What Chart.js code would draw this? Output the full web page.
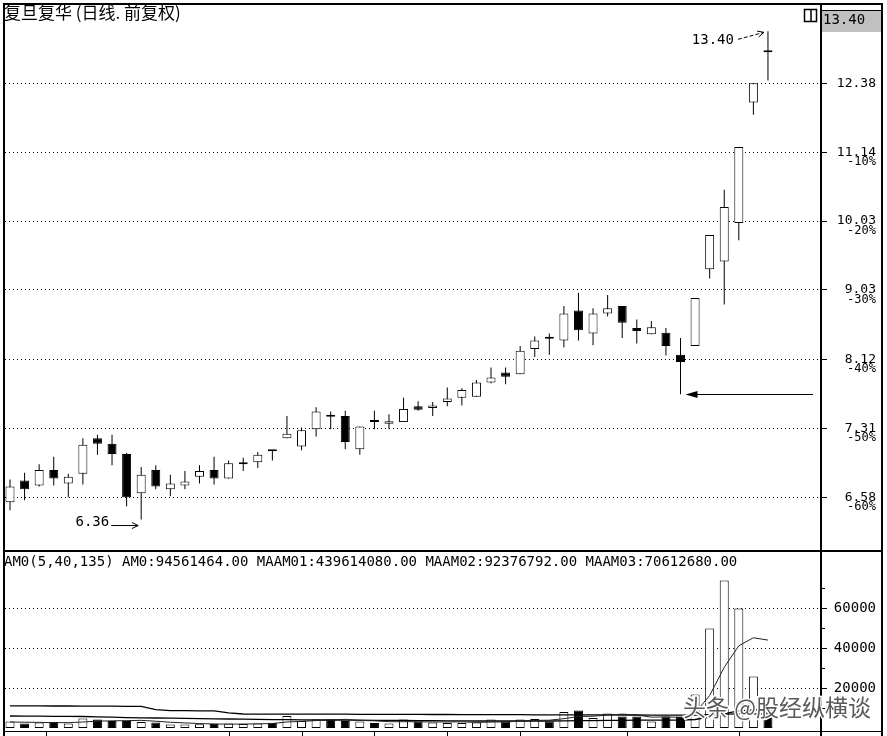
<!DOCTYPE html>
<html lang="zh">
<head>
<meta charset="utf-8">
<title>复旦复华 日线 前复权</title>
<script src="https://cdn.jsdelivr.net/npm/chart.js@4.4.1/dist/chart.umd.min.js"></script>
<style>
    html, body { margin: 0; padding: 0; background: #ffffff; }
    #contenedor { position: relative; width: 887px; height: 736px; overflow: hidden; background: #ffffff; }
    #contenedor canvas { position: absolute; left: 0; top: 0; }
</style>
</head>
<body>
<div id="contenedor">
    <canvas id="graficoPrecio" width="887" height="736"></canvas>
    <canvas id="graficoVolumen" width="887" height="736"></canvas>
</div>
<script>
// Posición de cada vela (53 sesiones)
const dias = Array.from({ length: 53 }, (_, i) => i);

// Precios
const apertura = [6.53, 6.75, 6.70, 6.86, 6.72, 6.82, 7.20, 7.14, 7.03, 6.62,
    6.86, 6.66, 6.70, 6.79, 6.86, 6.77, 6.92, 6.94, 7.07, 7.20,
    7.11, 7.30, 7.46, 7.45, 7.08, 7.39, 7.36, 7.38, 7.56, 7.54,
    7.61, 7.66, 7.67, 7.84, 7.96, 7.94, 8.25, 8.40, 8.36, 8.75,
    8.45, 8.71, 8.81, 8.52, 8.44, 8.46, 8.18, 8.29, 9.32, 9.43,
    10.00, 12.02, 13.00];
const maximo = [6.76, 6.83, 6.92, 7.00, 6.82, 7.20, 7.24, 7.24, 7.04, 6.89,
    6.91, 6.81, 6.85, 6.91, 7.00, 6.96, 6.99, 7.05, 7.07, 7.45,
    7.32, 7.55, 7.50, 7.51, 7.33, 7.51, 7.47, 7.66, 7.62, 7.61,
    7.78, 7.77, 7.87, 8.02, 8.02, 8.29, 8.41, 8.45, 8.81, 8.99,
    8.78, 8.96, 8.81, 8.63, 8.61, 8.52, 8.39, 8.92, 9.82, 10.52,
    11.23, 12.38, 13.40];
const minimo = [6.45, 6.55, 6.69, 6.70, 6.58, 6.71, 7.02, 6.91, 6.49, 6.36,
    6.66, 6.59, 6.66, 6.72, 6.71, 6.77, 6.85, 6.88, 6.96, 7.20,
    7.07, 7.22, 7.30, 7.08, 7.02, 7.30, 7.30, 7.38, 7.51, 7.45,
    7.56, 7.57, 7.67, 7.83, 7.82, 7.94, 8.15, 8.18, 8.27, 8.36,
    8.30, 8.67, 8.39, 8.32, 8.44, 8.17, 7.70, 8.29, 9.19, 8.83,
    9.74, 11.80, 12.43];
const cierre = [6.69, 6.66, 6.86, 6.77, 6.79, 7.13, 7.14, 7.03, 6.58, 6.81,
    6.69, 6.72, 6.74, 6.85, 6.77, 6.93, 6.93, 7.02, 7.06, 7.25,
    7.29, 7.50, 7.44, 7.16, 7.33, 7.38, 7.39, 7.53, 7.52, 7.57,
    7.65, 7.75, 7.84, 7.90, 7.91, 8.23, 8.36, 8.38, 8.71, 8.49,
    8.71, 8.78, 8.59, 8.48, 8.53, 8.29, 8.09, 8.92, 9.82, 10.25,
    11.23, 12.38, 12.98];

// Importe (AMO) y sus medias
const volumen = [3200, 2200, 2700, 3000, 2300, 4800, 4300, 3500, 3500, 3000,
    2700, 1700, 1800, 1900, 2000, 2200, 2000, 2300, 2600, 6000,
    3500, 4300, 4300, 3500, 3300, 2500, 2200, 4300, 3300, 2800,
    2500, 2500, 2800, 4200, 3300, 4200, 4500, 3300, 8000, 8700,
    5000, 7200, 5800, 5800, 3300, 5800, 5800, 16700, 49700, 73700,
    59700, 25800, 9000];
const media5 = [3000, 2900, 2800, 2700, 2680, 3000, 3420, 3580, 3680, 3820,
    3400, 2880, 2540, 2220, 2020, 1920, 1980, 2080, 2220, 3020,
    3280, 3740, 4140, 4320, 3780, 3580, 3160, 3160, 3120, 3020,
    3020, 3080, 2780, 2960, 3060, 3400, 3800, 3900, 4660, 5740,
    5900, 6440, 6940, 6500, 5420, 5580, 5300, 7480, 16260, 30340,
    41120, 45120, 43960];
const media40 = [6000, 5950, 5900, 5850, 5800, 5750, 5600, 5400, 5200, 5100,
    5000, 4900, 4800, 4700, 4600, 4500, 4400, 4300, 4200, 4200,
    4100, 4000, 4000, 3950, 3900, 3850, 3800, 3750, 3700, 3650,
    3600, 3550, 3500, 3500, 3500, 3500, 3500, 3500, 3550, 3650,
    3700, 3800, 3850, 3900, 3900, 3950, 4000, 4250, 5400, 7150,
    8550, 9100, 9238];
const media135 = [11100, 11100, 11050, 11000, 11000, 10950, 10900, 10900, 10850, 10800,
    9200, 8700, 8650, 8600, 8550, 7600, 7000, 6950, 6900, 6950,
    6950, 6900, 6900, 6900, 6850, 6850, 6800, 6800, 6800, 6750,
    6750, 6700, 6700, 6700, 6650, 6650, 6600, 6600, 6600, 6600,
    6550, 6550, 6500, 6500, 6450, 6400, 6400, 6450, 6700, 6950,
    7050, 7070, 7061];

// Ejes
const preciosEje = [6.58, 7.31, 8.12, 9.03, 10.03, 11.14, 12.38];
const porcentajesEje = ['-60%', '-50%', '-40%', '-30%', '-20%', '-10%', ''];
const volumenEje = [20000, 40000, 60000];
const volumenMenor = [10000, 30000, 50000, 70000];
const separadoresFecha = [2.5, 15, 20, 25, 30, 35, 42.3, 50];

const titulo = '复旦复华 (日线. 前复权)';
const leyendaVolumen = 'AM0(5,40,135) AM0:94561464.00 MAAM01:439614080.00 MAAM02:92376792.00 MAAM03:70612680.00';
const marcaAgua = '头条 @股经纵横谈';
const fuenteMono = '"DejaVu Sans Mono", monospace';

// Color de cada vela: blanca si sube, negra si baja
const colorVela = dias.map((i) => (cierre[i] >= apertura[i] ? '#ffffff' : '#000000'));

const ejeXComun = { type: 'linear', min: -0.343, max: 55.57, display: false, offset: false };

// Flecha con punta abierta
function flechaAbierta(ctx, x1, y1, x2, y2, discontinua) {
    const ang = Math.atan2(y2 - y1, x2 - x1);
    ctx.beginPath();
    ctx.setLineDash(discontinua ? [4, 2] : []);
    ctx.moveTo(x1, y1);
    ctx.lineTo(x2, y2);
    ctx.stroke();
    ctx.setLineDash([]);
    ctx.beginPath();
    ctx.moveTo(x2 - 7 * Math.cos(ang - 0.45), y2 - 7 * Math.sin(ang - 0.45));
    ctx.lineTo(x2, y2);
    ctx.lineTo(x2 - 7 * Math.cos(ang + 0.45), y2 - 7 * Math.sin(ang + 0.45));
    ctx.stroke();
}

const marcoPrecio = {
    id: 'marcoPrecio',
    afterDraw(chart) {
        const { ctx, chartArea: area } = chart;
        const ejeX = chart.scales.x;
        const ejeY = chart.scales.y;
        ctx.save();

        // Etiquetas del eje derecho (precio y porcentaje debajo)
        ctx.fillStyle = '#000';
        ctx.textAlign = 'right';
        ctx.textBaseline = 'middle';
        preciosEje.forEach((valor, i) => {
            const y = ejeY.getPixelForValue(valor);
            ctx.font = '13px ' + fuenteMono;
            ctx.fillText(valor.toFixed(2), 876, y);
            if (porcentajesEje[i]) {
                ctx.font = '12px ' + fuenteMono;
                ctx.fillText(porcentajesEje[i], 876, y + 9.5);
            }
        });

        // Caja del último máximo
        ctx.fillStyle = '#c0c0c0';
        ctx.fillRect(area.right + 1, 10, 881 - area.right - 1, 22);
        ctx.strokeStyle = '#000';
        ctx.lineWidth = 1;
        ctx.beginPath();
        ctx.moveTo(area.right, 10.5);
        ctx.lineTo(882, 10.5);
        ctx.stroke();
        ctx.fillStyle = '#000';
        ctx.textAlign = 'left';
        ctx.font = '14px ' + fuenteMono;
        ctx.fillText(maximo[52].toFixed(2), 823, 20);

        // Icono pequeño
        ctx.lineWidth = 1.5;
        ctx.strokeRect(804.5, 9.5, 12, 12);
        ctx.beginPath();
        ctx.moveTo(811, 9.5);
        ctx.lineTo(811, 21.5);
        ctx.stroke();

        // Marco general
        ctx.lineWidth = 2;
        ctx.beginPath();
        ctx.moveTo(4, 736);
        ctx.lineTo(4, 4);
        ctx.lineTo(882, 4);
        ctx.lineTo(882, 736);
        ctx.moveTo(area.right + 1, 4);
        ctx.lineTo(area.right + 1, 736);
        ctx.moveTo(4, area.bottom + 1);
        ctx.lineTo(882, area.bottom + 1);
        ctx.stroke();

        // Título
        ctx.font = '17px "Noto Sans CJK SC", sans-serif';
        ctx.textAlign = 'left';
        ctx.textBaseline = 'middle';
        ctx.fillText(titulo, 4, 13);

        // Anotación del máximo 13.40
        const xTope = ejeX.getPixelForValue(52);
        const yTope = ejeY.getPixelForValue(maximo[52]);
        ctx.font = '14px ' + fuenteMono;
        ctx.textAlign = 'right';
        ctx.fillText(maximo[52].toFixed(2), xTope - 34, yTope + 9);
        ctx.lineWidth = 1;
        flechaAbierta(ctx, xTope - 30, yTope + 8, xTope - 4, yTope + 1, true);

        // Anotación del mínimo 6.36
        const xPiso = ejeX.getPixelForValue(9);
        const yPiso = ejeY.getPixelForValue(minimo[9]);
        ctx.fillText(minimo[9].toFixed(2), xPiso - 32, yPiso + 3);
        flechaAbierta(ctx, xPiso - 30, yPiso + 6, xPiso - 3, yPiso + 6, false);

        // Flecha larga hacia el mínimo del día 47
        const yFlecha = Math.round(ejeY.getPixelForValue(minimo[46])) + 0.5;
        const xFlecha = ejeX.getPixelForValue(46) + 5;
        ctx.beginPath();
        ctx.moveTo(813, yFlecha);
        ctx.lineTo(xFlecha + 8, yFlecha);
        ctx.stroke();
        ctx.beginPath();
        ctx.moveTo(xFlecha, yFlecha);
        ctx.lineTo(xFlecha + 12, yFlecha - 3.5);
        ctx.lineTo(xFlecha + 12, yFlecha + 3.5);
        ctx.closePath();
        ctx.fill();

        ctx.restore();
    },
};

const marcoVolumen = {
    id: 'marcoVolumen',
    afterDraw(chart) {
        const { ctx, chartArea: area } = chart;
        const ejeX = chart.scales.x;
        const ejeY = chart.scales.y;
        ctx.save();
        ctx.fillStyle = '#000';
        ctx.strokeStyle = '#000';
        ctx.font = '14px ' + fuenteMono;
        ctx.textBaseline = 'middle';
        ctx.textAlign = 'left';
        ctx.fillText(leyendaVolumen, 4, 562);

        ctx.textAlign = 'right';
        volumenEje.forEach((v) => ctx.fillText(String(v), 876, ejeY.getPixelForValue(v)));

        // Marcas menores del eje
        ctx.lineWidth = 1;
        ctx.beginPath();
        volumenMenor.forEach((v) => {
            const y = Math.round(ejeY.getPixelForValue(v)) + 0.5;
            ctx.moveTo(area.right + 1, y);
            ctx.lineTo(area.right + 5, y);
        });
        // Línea inferior y separadores de fecha
        ctx.moveTo(4, 731.5);
        ctx.lineTo(882, 731.5);
        separadoresFecha.forEach((d) => {
            const x = Math.round(ejeX.getPixelForValue(d)) + 0.5;
            ctx.moveTo(x, 731);
            ctx.lineTo(x, 736);
        });
        ctx.stroke();

        // Marca de agua
        ctx.font = '23px "Noto Sans CJK SC", sans-serif';
        ctx.textAlign = 'left';
        ctx.lineWidth = 3;
        ctx.strokeStyle = '#ffffff';
        ctx.strokeText(marcaAgua, 683, 707);
        ctx.fillStyle = 'rgba(60, 60, 60, 0.85)';
        ctx.fillText(marcaAgua, 683, 707);
        ctx.restore();
    },
};

// Gráfico de velas
new Chart(document.getElementById('graficoPrecio').getContext('2d'), {
    type: 'bar',
    data: {
        datasets: [
            {
                label: 'mechas',
                data: dias.map((i) => ({ x: i, y: [minimo[i], maximo[i]] })),
                backgroundColor: '#000000',
                borderWidth: 0,
                barThickness: 1,
                maxBarThickness: 1,
                inflateAmount: 0,
                grouped: false,
                order: 2,
            },
            {
                label: 'cuerpos',
                data: dias.map((i) => ({ x: i, y: [apertura[i], cierre[i]] })),
                backgroundColor: colorVela,
                borderColor: '#000000',
                borderWidth: 1,
                borderSkipped: false,
                barThickness: 9,
                maxBarThickness: 9,
                minBarLength: 2,
                inflateAmount: 0,
                grouped: false,
                order: 1,
            },
        ],
    },
    options: {
        responsive: false,
        animation: false,
        events: [],
        layout: { padding: { left: 5, top: 5, right: 5, bottom: 186 } },
        plugins: { legend: { display: false }, tooltip: { enabled: false } },
        scales: {
            x: ejeXComun,
            y: {
                type: 'logarithmic',
                position: 'right',
                min: 6.071,
                max: 13.95,
                bounds: 'data',
                afterFit: (eje) => { eje.width = 62; },
                afterBuildTicks: (eje) => { eje.ticks = preciosEje.map((v) => ({ value: v })); },
                ticks: { display: false },
                grid: { color: '#000', lineWidth: 1, tickColor: '#000', tickLength: 7, tickBorderDash: [] },
                border: { display: false, dash: [1, 3] },
            },
        },
    },
    plugins: [marcoPrecio],
});

// Gráfico de importe
new Chart(document.getElementById('graficoVolumen').getContext('2d'), {
    type: 'bar',
    data: {
        datasets: [
            {
                type: 'line',
                label: 'MAAM01',
                data: dias.map((i) => ({ x: i, y: media5[i] })),
                borderColor: '#222',
                borderWidth: 1,
                pointRadius: 0,
                order: 1,
            },
            {
                type: 'line',
                label: 'MAAM02',
                data: dias.map((i) => ({ x: i, y: media40[i] })),
                borderColor: '#000',
                borderWidth: 1.3,
                pointRadius: 0,
                order: 1,
            },
            {
                type: 'line',
                label: 'MAAM03',
                data: dias.map((i) => ({ x: i, y: media135[i] })),
                borderColor: '#000',
                borderWidth: 1.3,
                pointRadius: 0,
                order: 1,
            },
            {
                label: 'AM0',
                data: dias.map((i) => ({ x: i, y: volumen[i] })),
                backgroundColor: colorVela,
                borderColor: '#000000',
                borderWidth: 1,
                borderSkipped: false,
                barThickness: 9,
                maxBarThickness: 9,
                inflateAmount: 0,
                grouped: false,
                order: 2,
            },
        ],
    },
    options: {
        responsive: false,
        animation: false,
        events: [],
        layout: { padding: { left: 5, top: 552, right: 5, bottom: 8 } },
        plugins: { legend: { display: false }, tooltip: { enabled: false } },
        scales: {
            x: ejeXComun,
            y: {
                type: 'linear',
                position: 'right',
                min: 0,
                max: 88000,
                bounds: 'data',
                afterFit: (eje) => { eje.width = 62; },
                afterBuildTicks: (eje) => { eje.ticks = volumenEje.map((v) => ({ value: v })); },
                ticks: { display: false },
                grid: { color: '#000', lineWidth: 1, tickColor: '#000', tickLength: 7, tickBorderDash: [] },
                border: { display: false, dash: [1, 3] },
            },
        },
    },
    plugins: [marcoVolumen],
});
</script>
</body>
</html>
